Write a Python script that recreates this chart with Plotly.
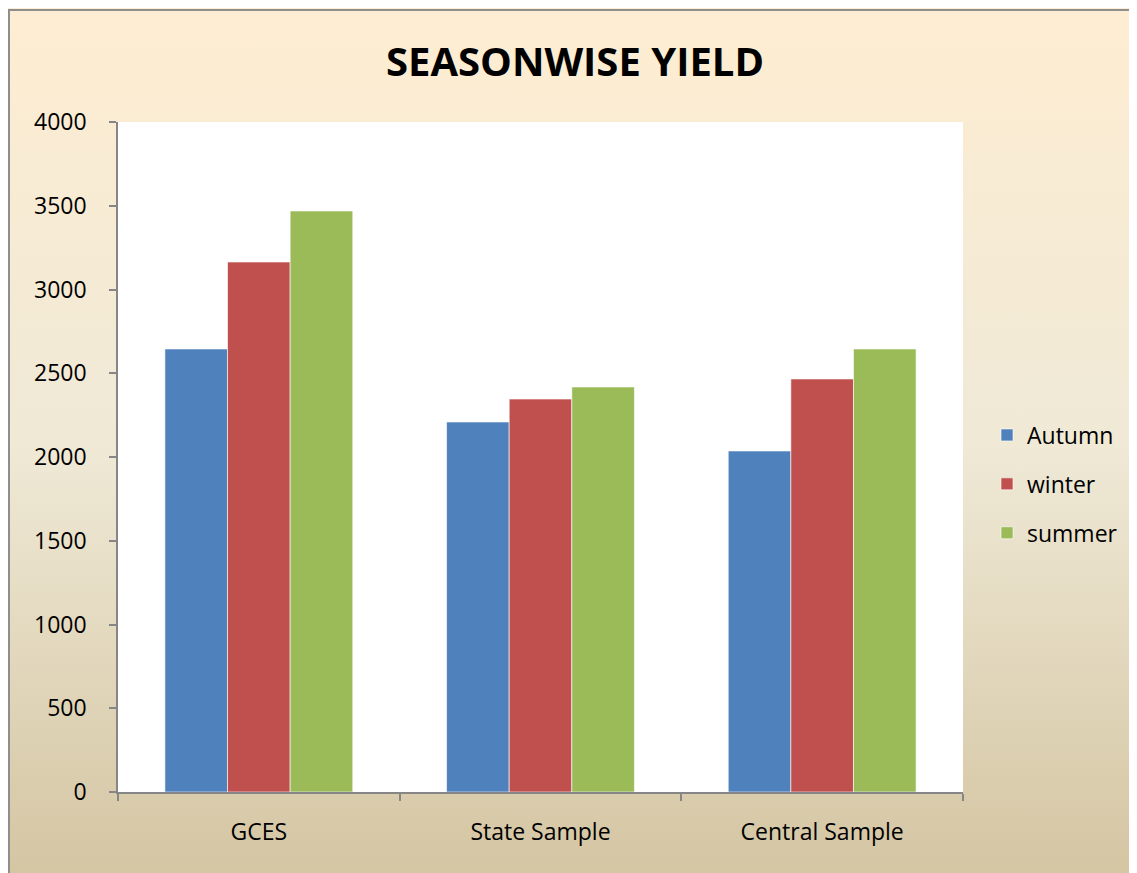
import base64
import plotly.graph_objects as go

categories = ["GCES", "State Sample", "Central Sample"]
series_names = ["Autumn", "winter", "summer"]
autumn = [2645, 2209, 2036]
winter = [3164, 2346, 2466]
summer = [3469, 2418, 2645]
y_ticks = [0, 500, 1000, 1500, 2000, 2500, 3000, 3500, 4000]
colors = ["#4F81BD", "#C0504D", "#9BBB59"]

# page has 8px body margin; work in figure coordinates = page - 8
OFF = 8
W, H = 1137, 873
L, R, T, B = 118 - OFF, 963 - OFF, 122 - OFF, 792 - OFF
pw, ph = R - L, B - T

FONT = "Open Sans"

fig = go.Figure()
for i, (name, vals) in enumerate(zip(series_names, [autumn, winter, summer])):
    fig.add_trace(go.Bar(
        x=categories, y=vals, name=name,
        marker=dict(color=colors[i], line=dict(color="rgba(255,255,255,0.6)", width=1)),
        legendgroup=name,
    ))

svg = f'''<svg xmlns="http://www.w3.org/2000/svg" width="{W}" height="{H}" preserveAspectRatio="none">
<defs><linearGradient id="g" x1="0" y1="0" x2="0" y2="1">
<stop offset="0" stop-color="#FEEDD2"/>
<stop offset="0.5" stop-color="#EFE9D6"/>
<stop offset="1" stop-color="#D4C5A2"/>
</linearGradient></defs>
<rect x="0" y="0" width="{W}" height="{H}" fill="url(#g)"/>
</svg>'''
uri = "data:image/svg+xml;base64," + base64.b64encode(svg.encode()).decode()


def px_x(p):
    return (p - OFF - L) / pw


def px_y(p):
    return (B - (p - OFF)) / ph


fig.add_layout_image(dict(
    source=uri, xref="paper", yref="paper",
    x=px_x(OFF), y=px_y(OFF), sizex=W / pw, sizey=H / ph,
    xanchor="left", yanchor="top", sizing="stretch", layer="below",
))

shapes = [
    dict(type="rect", xref="paper", yref="paper", x0=0, x1=1, y0=0, y1=1,
         fillcolor="white", line=dict(width=0), layer="below"),
    dict(type="rect", xref="paper", yref="paper", x0=px_x(9), x1=px_x(W + 40),
         y0=px_y(H + 40), y1=px_y(10), fillcolor="rgba(0,0,0,0)",
         line=dict(color="#8E8E8E", width=2), layer="above"),
]

fig.update_layout(
    width=W, height=H,
    margin=dict(l=L, r=W - R, t=T, b=H - B),
    paper_bgcolor="#F3EAD6",
    plot_bgcolor="white",
    barmode="group",
    bargap=0.333,
    bargroupgap=0,
    shapes=shapes,
    title=dict(text="<b>SEASONWISE YIELD</b>", x=(575 - OFF) / W, xanchor="center",
               xref="container", yref="container", y=1 - (62 - OFF) / H, yanchor="middle",
               font=dict(family=FONT, size=40, color="black")),
    font=dict(family=FONT, color="black"),
    legend=dict(x=px_x(987), y=px_y(484), xanchor="left", yanchor="middle",
                font=dict(family=FONT, size=23, color="black"),
                bgcolor="rgba(0,0,0,0)", tracegroupgap=16, traceorder="grouped",
                itemwidth=30),
    xaxis=dict(
        showgrid=False, showline=True, linecolor="#868686", linewidth=1.5,
        ticks="outside", tickson="boundaries", ticklen=7, tickcolor="#868686",
        tickwidth=1.5, tickfont=dict(family=FONT, size=23, color="black"),
        ticklabelstandoff=19,
    ),
    yaxis=dict(
        range=[0, 4000], tickvals=y_ticks, showgrid=False, zeroline=False,
        showline=True, linecolor="#868686", linewidth=1.5,
        ticks="outside", ticklen=7, tickcolor="#868686", tickwidth=1.5,
        tickfont=dict(family=FONT, size=23, color="black"),
        ticklabelstandoff=18,
    ),
)

fig.write_html("out.html")
